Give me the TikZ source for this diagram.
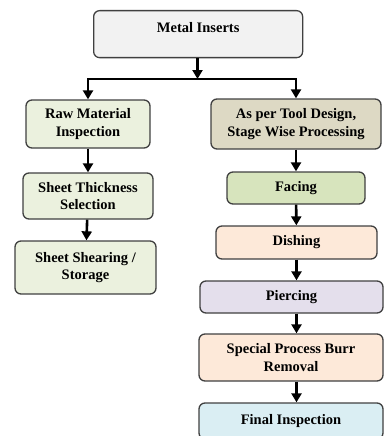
\documentclass[tikz,border=0pt]{standalone}
\usepackage{fontspec}
\setmainfont{Liberation Serif}
\usetikzlibrary{arrows.meta, positioning}
\definecolor{topgray}{HTML}{F2F2F2}
\definecolor{palegreen}{HTML}{EBF1DE}
\definecolor{tan}{HTML}{DDD9C4}
\definecolor{midgreen}{HTML}{D7E4BD}
\definecolor{peach}{HTML}{FDE9D9}
\definecolor{lilac}{HTML}{E4DFEC}
\definecolor{paleblue}{HTML}{DAEEF3}
\tikzset{
  every node/.style={font=\bfseries\fontsize{14.5}{17.5}\selectfont},
  stage/.style={
    draw=black!75, line width=1.3pt, rounded corners=6pt,
    align=center, inner sep=2pt
  },
  flow/.style={-{Triangle[length=9pt,width=10pt]}, line width=2.6pt, black},
}
\begin{document}
\begin{tikzpicture}[x=1pt, y=-1pt]
    \useasboundingbox (0,0) rectangle (384,436);

    % Top box
    \node[stage, fill=topgray, minimum width=209pt, minimum height=47pt,
      anchor=north west, text depth=13pt] (inserts) at (93,10) {Metal Inserts};

    % Left column
    \node[stage, fill=palegreen, minimum width=124pt, minimum height=48pt]
      (rawmat) at (88,124) {Raw Material\\Inspection};
    \node[stage, fill=palegreen, minimum width=130pt, minimum height=46pt]
      (thick) at (88,196) {Sheet Thickness\\Selection};
    \node[stage, fill=palegreen, minimum width=141pt, minimum height=53pt]
      (shear) at (85.5,267.5) {Sheet Shearing /\\Storage};

    % Right column
    \node[stage, fill=tan, minimum width=170pt, minimum height=50pt]
      (tooldes) at (296,124) {As per Tool Design,\\Stage Wise Processing};
    \node[stage, fill=midgreen, minimum width=138pt, minimum height=32pt]
      (facing) at (296,188) {Facing};
    \node[stage, fill=peach, minimum width=161pt, minimum height=33pt]
      (dishing) at (296.5,242.5) {Dishing};
    \node[stage, fill=lilac, minimum width=183pt, minimum height=32pt]
      (pierce) at (291.5,297) {Piercing};
    \node[stage, fill=peach, minimum width=184pt, minimum height=47pt]
      (burr) at (291,357.5) {Special Process Burr\\Removal};
    \node[stage, fill=paleblue, minimum width=184pt, minimum height=36pt]
      (final) at (291,421) {Final Inspection};

    % Split
    \coordinate (split) at (197.5,79);
    \draw[flow] (inserts.south -| split) -- (split);
    \draw[flow] (split) -| (rawmat.north);
    \draw[flow] (split) -| (tooldes.north);

    % Arrows down each column
    \draw[flow] (rawmat) -- (thick);
    \draw[flow] (thick) -- (shear);
    \draw[flow] (tooldes) -- (facing);
    \draw[flow] (facing) -- (dishing);
    \draw[flow] (dishing.south) -- (dishing.south |- pierce.north);
    \draw[flow] (pierce.south -| dishing.south) -- (burr.north -| dishing.south);
    \draw[flow] (burr.south -| dishing.south) -- (final.north -| dishing.south);

\end{tikzpicture}
\end{document}
